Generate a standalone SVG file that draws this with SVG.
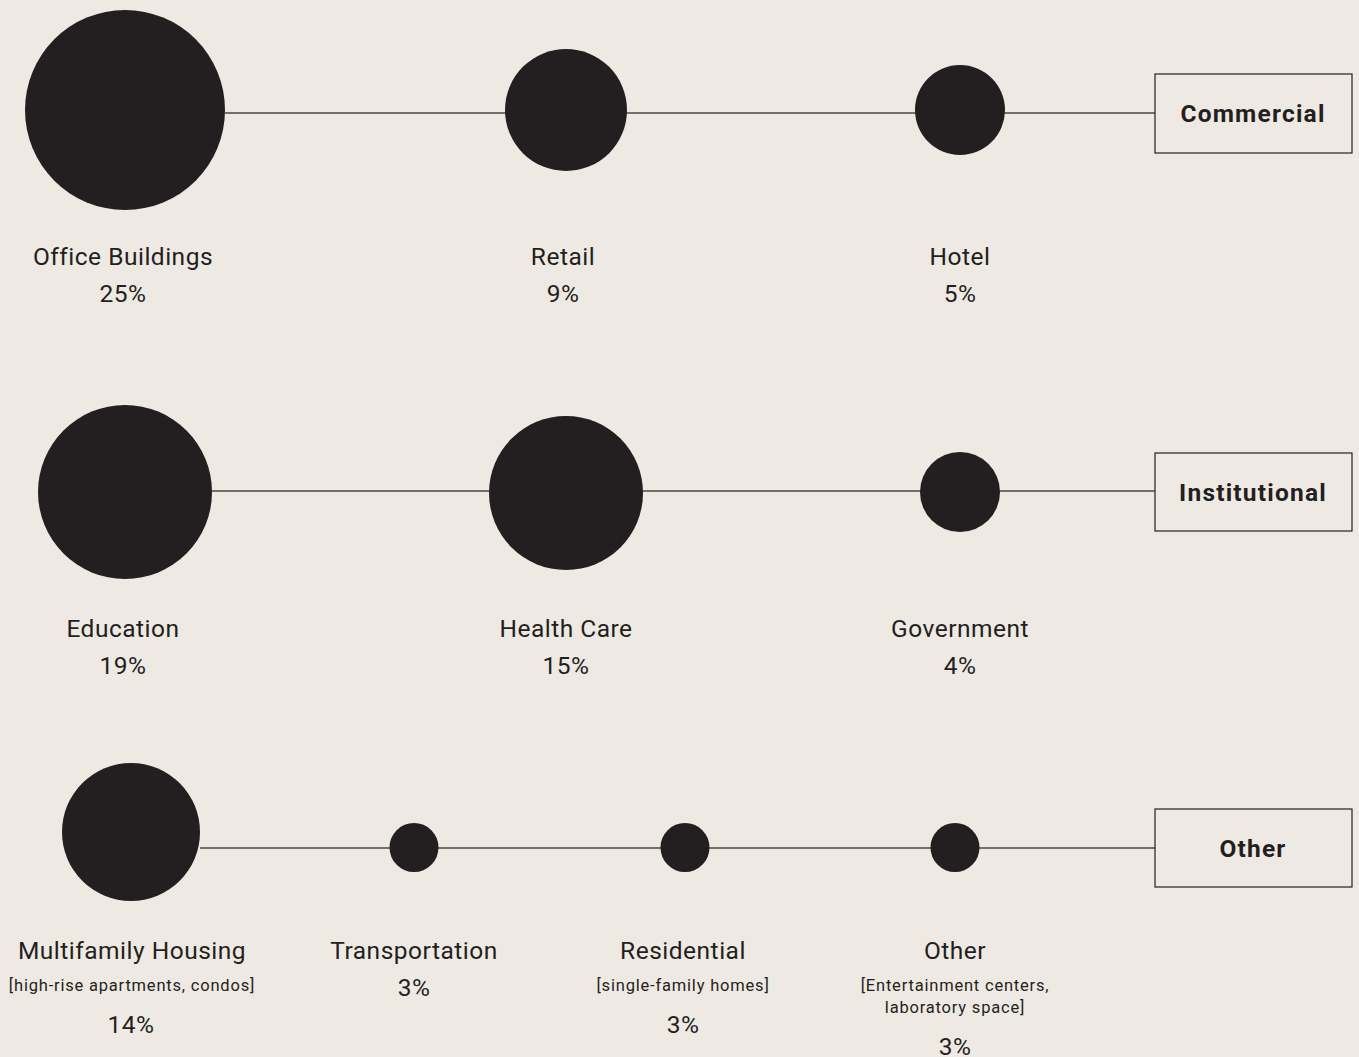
<svg xmlns="http://www.w3.org/2000/svg" width="1359" height="1057" viewBox="0 0 1359 1057">
<style>
.dot{fill:#231f20}
.ln{stroke:#4a4647;stroke-width:1.5;fill:none}
.box{fill:none;stroke:#231f20;stroke-width:1.2}
.lbl{font-family:Roboto,"Liberation Sans",sans-serif;font-size:24.5px;letter-spacing:0.5px;fill:#231f20;text-anchor:middle}
.sub{font-family:Roboto,"Liberation Sans",sans-serif;font-size:16.5px;letter-spacing:0.8px;fill:#231f20;text-anchor:middle}
.cat{font-family:Roboto,"Liberation Sans",sans-serif;font-size:24.5px;letter-spacing:1.2px;font-weight:bold;fill:#231f20;text-anchor:middle}
</style>
<rect width="1359" height="1057" fill="#efe9e4"/>
<g id="connectors">
<line class="ln" x1="225" y1="113" x2="1155" y2="113"/>
<line class="ln" x1="212" y1="491" x2="1155" y2="491"/>
<line class="ln" x1="200" y1="848" x2="1155" y2="848"/>
</g>
<g id="commercial"><rect class="box" x="1155" y="74" width="197" height="79"/><text class="cat" x="1253" y="122">Commercial</text></g>
<g id="office"><circle class="dot" cx="125" cy="110" r="100"/><text class="lbl" x="123" y="265">Office Buildings</text><text class="lbl" x="123" y="302">25%</text></g>
<g id="retail"><circle class="dot" cx="566" cy="110" r="61"/><text class="lbl" x="563" y="265">Retail</text><text class="lbl" x="563" y="302">9%</text></g>
<g id="hotel"><circle class="dot" cx="960" cy="110" r="45"/><text class="lbl" x="960" y="265">Hotel</text><text class="lbl" x="960" y="302">5%</text></g>
<g id="institutional"><rect class="box" x="1155" y="453" width="197" height="78"/><text class="cat" x="1253" y="501">Institutional</text></g>
<g id="education"><circle class="dot" cx="125" cy="492" r="87"/><text class="lbl" x="123" y="637">Education</text><text class="lbl" x="123" y="674">19%</text></g>
<g id="healthcare"><circle class="dot" cx="566" cy="493" r="77"/><text class="lbl" x="566" y="637">Health Care</text><text class="lbl" x="566" y="674">15%</text></g>
<g id="government"><circle class="dot" cx="960" cy="492" r="40"/><text class="lbl" x="960" y="637">Government</text><text class="lbl" x="960" y="674">4%</text></g>
<g id="other-cat"><rect class="box" x="1155" y="809" width="197" height="78"/><text class="cat" x="1253" y="857">Other</text></g>
<g id="multifamily"><circle class="dot" cx="131" cy="832" r="69"/><text class="lbl" x="132" y="959">Multifamily Housing</text><text class="sub" x="132" y="991">[high-rise apartments, condos]</text><text class="lbl" x="131" y="1033">14%</text></g>
<g id="transportation"><circle class="dot" cx="414" cy="847.5" r="24.5"/><text class="lbl" x="414" y="959">Transportation</text><text class="lbl" x="414" y="996">3%</text></g>
<g id="residential"><circle class="dot" cx="685" cy="847.5" r="24.5"/><text class="lbl" x="683" y="959">Residential</text><text class="sub" x="683" y="991">[single-family homes]</text><text class="lbl" x="683" y="1033">3%</text></g>
<g id="other"><circle class="dot" cx="955" cy="847.5" r="24.5"/><text class="lbl" x="955" y="959">Other</text><text class="sub" x="955" y="991">[Entertainment centers,</text><text class="sub" x="955" y="1013">laboratory space]</text><text class="lbl" x="955" y="1055">3%</text></g>
</svg>
